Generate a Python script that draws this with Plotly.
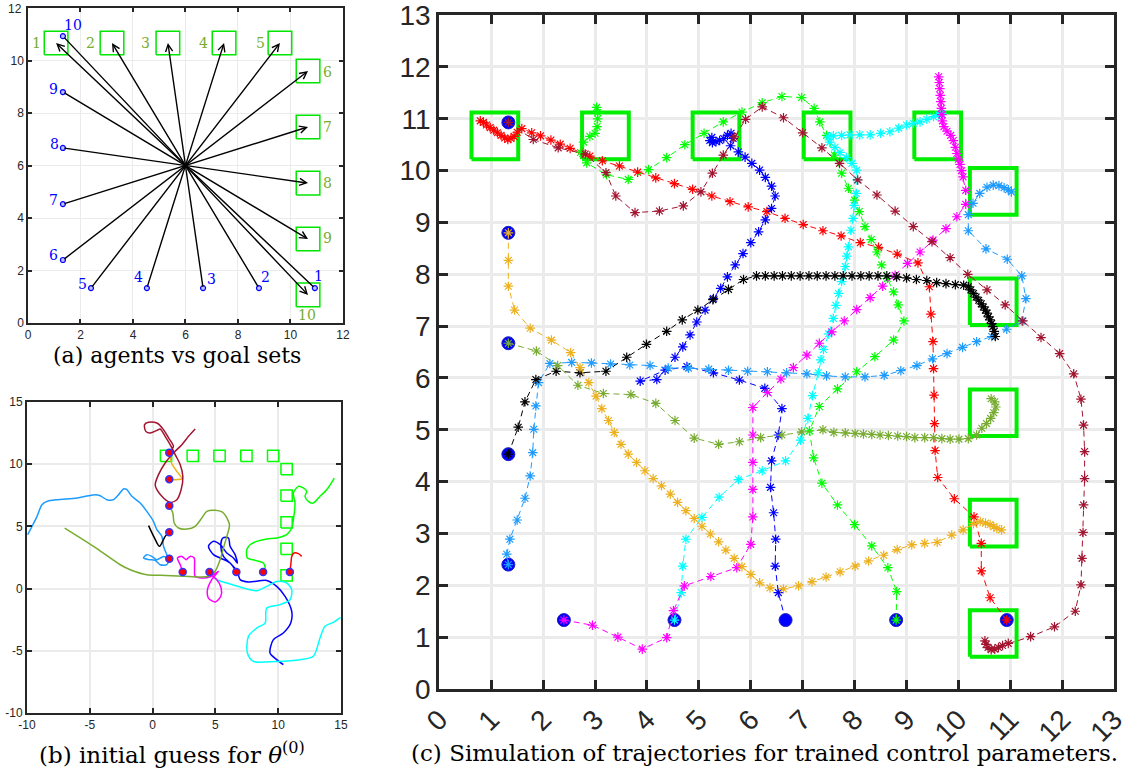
import plotly.graph_objects as go

# ---------------- data ----------------
AGENT_X = [10.93, 8.8, 6.67, 4.53, 2.4, 1.33, 1.33, 1.33, 1.33, 1.33]
AGENT_Y = [1.33, 1.33, 1.33, 1.33, 1.33, 2.4, 4.53, 6.67, 8.8, 10.93]
GOAL_X = [1.07, 3.2, 5.33, 7.47, 9.6, 10.67, 10.67, 10.67, 10.67, 10.67]
GOAL_Y = [10.67, 10.67, 10.67, 10.67, 10.67, 9.6, 7.47, 5.33, 3.2, 1.07]
GOAL_HALF = 0.45
LABELS = ["1", "2", "3", "4", "5", "6", "7", "8", "9", "10"]
AGENT_LABEL_X = [11.07, 9.04, 7.01, 4.21, 2.06, 0.98, 0.98, 1.01, 0.98, 1.70]
AGENT_LABEL_Y = [1.78, 1.75, 1.69, 1.75, 1.50, 2.58, 4.70, 6.81, 8.93, 11.34]
GOAL_LABEL_X = [0.34, 2.37, 4.49, 6.69, 8.85, 11.43, 11.43, 11.43, 11.43, 10.63]
GOAL_LABEL_Y = [10.67, 10.67, 10.67, 10.67, 10.67, 9.56, 7.47, 5.33, 3.24, 0.29]
A_TICKS = [0, 2, 4, 6, 8, 10, 12]
B_TICKS = [-10, -5, 0, 5, 10, 15]
C_TICKS = list(range(0, 14))

COLORS = ["#ff0000", "#00ff00", "#0000ff", "#00ffff", "#ff00ff",
          "#1e9bff", "#000000", "#77ac30", "#edb120", "#a2142f"]

# panel (c): simulated trajectories for trained parameters
C1 = [(10.93,1.33),(10.61,1.76),(10.44,2.28),(10.44,2.81),(10.30,3.32),(9.92,3.67),(9.60,4.08),(9.55,4.60),
      (9.54,5.12),(9.53,5.67),(9.52,6.18),(9.51,6.70),(9.47,7.23),(9.44,7.76),(9.22,8.22),(8.82,8.39),
      (8.46,8.52),(8.11,8.61),(7.74,8.74),(7.39,8.84),(7.01,8.96),(6.66,9.08),(6.31,9.21),(5.95,9.30),
      (5.60,9.40),(5.25,9.51),(4.88,9.64),(4.53,9.75),(4.17,9.86),(3.82,9.97),(3.47,10.09),(3.14,10.19),
      (2.90,10.28),(2.77,10.33),(2.52,10.43),(2.33,10.51),(2.15,10.59),(1.95,10.67),(1.78,10.73),
      (1.59,10.81),(1.50,10.74),(1.44,10.66),(1.38,10.62),(1.32,10.60),(1.26,10.63),(1.19,10.68),
      (1.12,10.73),(1.05,10.78),(0.98,10.83),(0.91,10.88),(0.85,10.93),(0.79,10.96)]
C2 = [(8.80,1.33),(8.81,1.88),(8.64,2.34),(8.33,2.76),(8.00,3.17),(7.67,3.55),(7.37,3.97),(7.21,4.46),
      (7.13,4.98),(7.32,5.45),(7.67,5.79),(8.04,6.12),(8.39,6.41),(8.75,6.73),(8.95,7.10),(8.84,7.41),
      (8.75,7.66),(8.63,7.92),(8.52,8.18),(8.43,8.43),(8.32,8.67),(8.20,8.92),(8.09,9.21),(8.00,9.43),
      (7.88,9.66),(7.75,9.95),(7.61,10.30),(7.46,10.68),(7.33,10.94),(7.22,11.20),(6.98,11.41),
      (6.60,11.43),(6.22,11.31),(5.83,11.13),(5.47,10.94),(5.10,10.72),(4.73,10.50),(4.38,10.25),
      (4.03,10.02),(3.64,9.83),(3.22,9.92),(2.84,10.15),(2.72,10.35),(2.78,10.55),(2.90,10.66),
      (3.00,10.72),(3.04,10.85),(3.05,11.00),(3.05,11.12),(3.03,11.22)]
C3 = [(6.67,1.33),(6.53,1.86),(6.47,2.37),(6.48,2.89),(6.44,3.40),(6.38,3.89),(6.40,4.40),(6.53,4.90),
      (6.60,5.41),(6.27,5.80),(5.78,5.96),(5.28,6.10),(4.77,6.22),(4.35,6.15),(3.87,5.94),(4.19,5.97),
      (4.54,6.40),(4.69,6.60),(4.83,6.83),(4.96,7.08),(5.12,7.31),(5.28,7.53),(5.42,7.73),(5.55,7.95),
      (5.70,8.18),(5.85,8.40),(6.00,8.61),(6.15,8.82),(6.28,9.05),(6.40,9.27),(6.47,9.51),(6.40,9.70),
      (6.28,9.87),(6.17,10.01),(6.02,10.14),(5.89,10.26),(5.76,10.36),(5.61,10.48),(5.66,10.62),
      (5.62,10.72),(5.55,10.68),(5.48,10.62),(5.40,10.58),(5.33,10.56),(5.26,10.54),(5.21,10.58),
      (5.25,10.64)]
C4 = [(4.53,1.33),(4.66,1.86),(4.69,2.37),(4.75,2.89),(5.06,3.31),(5.39,3.70),(5.76,4.04),(6.22,4.21),
      (6.67,4.40),(6.96,4.80),(7.10,5.22),(7.19,5.66),(7.30,6.10),(7.35,6.35),(7.40,6.55),(7.50,6.85),
      (7.59,7.15),(7.64,7.40),(7.69,7.63),(7.75,7.86),(7.82,8.15),(7.85,8.35),(7.88,8.53),(7.93,8.85),
      (7.97,9.08),(7.99,9.33),(8.03,9.56),(8.05,9.82),(8.04,10.01),(7.95,10.14),(7.84,10.25),
      (7.72,10.35),(7.62,10.45),(7.52,10.55),(7.49,10.65),(7.59,10.67),(7.75,10.68),(7.91,10.69),
      (8.10,10.69),(8.30,10.69),(8.50,10.72),(8.68,10.75),(8.85,10.82),(9.00,10.88),(9.13,10.91),
      (9.26,10.94),(9.39,10.99),(9.52,11.04),(9.62,11.08),(9.68,11.10)]
C5 = [(2.40,1.33),(2.95,1.23),(3.44,1.00),(3.91,0.77),(4.38,0.99),(4.51,1.51),(4.72,1.99),(5.23,2.17),
      (5.73,2.34),(6.00,2.79),(6.04,3.32),(6.04,3.85),(6.04,4.37),(6.04,4.90),(6.04,5.43),(6.32,5.72),
      (6.58,5.98),(6.82,6.20),(7.08,6.44),(7.32,6.67),(7.56,6.89),(7.80,7.10),(8.04,7.32),(8.30,7.55),
      (8.54,7.77),(8.78,7.98),(9.02,8.21),(9.26,8.43),(9.51,8.66),(9.76,8.88),(9.97,9.11),(10.14,9.35),
      (10.14,9.62),(10.09,9.88),(10.06,10.00),(10.03,10.12),(10.00,10.22),(9.97,10.33),(9.94,10.45),
      (9.90,10.58),(9.85,10.68),(9.78,10.76),(9.72,10.85),(9.69,10.96),(9.68,11.08),(9.67,11.20),
      (9.66,11.33),(9.65,11.45),(9.64,11.58),(9.63,11.70),(9.62,11.81)]
C6 = [(1.33,2.40),(1.30,2.60),(1.36,2.89),(1.50,3.26),(1.65,3.68),(1.75,4.11),(1.80,4.56),(1.82,5.01),
      (1.86,5.46),(1.91,5.91),(2.13,6.28),(2.55,6.30),(2.93,6.29),(3.30,6.27),(3.67,6.25),(4.06,6.24),
      (4.41,6.19),(4.80,6.19),(5.19,6.17),(5.57,6.15),(5.94,6.13),(6.32,6.12),(6.69,6.10),(7.08,6.08),
      (7.46,6.04),(7.82,6.02),(8.20,6.02),(8.57,6.05),(8.89,6.14),(9.20,6.24),(9.50,6.37),(9.78,6.47),
      (10.08,6.59),(10.35,6.70),(10.64,6.80),(10.93,6.94),(11.22,7.10),(11.30,7.53),(11.22,7.97),
      (10.94,8.29),(10.53,8.49),(10.19,8.84),(10.19,9.15),(10.28,9.37),(10.41,9.56),(10.55,9.68),
      (10.67,9.72),(10.78,9.71),(10.88,9.67),(10.96,9.63),(11.02,9.59)]
C7 = [(1.33,4.53),(1.52,5.05),(1.65,5.54),(1.86,5.97),(2.25,6.13),(2.71,6.10),(3.21,6.13),(3.61,6.40),
      (3.99,6.65),(4.38,6.90),(4.68,7.12),(4.98,7.31),(5.27,7.51),(5.57,7.71),(5.86,7.90),(6.11,7.97),
      (6.28,7.97),(6.45,7.97),(6.61,7.97),(6.78,7.97),(6.95,7.97),(7.12,7.97),(7.28,7.97),(7.45,7.97),
      (7.62,7.97),(7.78,7.97),(7.95,7.97),(8.12,7.97),(8.28,7.97),(8.45,7.97),(8.62,7.97),(8.81,7.95),
      (9.00,7.93),(9.19,7.90),(9.39,7.88),(9.58,7.84),(9.76,7.82),(9.94,7.80),(10.10,7.79),(10.19,7.76),
      (10.24,7.70),(10.29,7.63),(10.34,7.56),(10.39,7.50),(10.44,7.43),(10.48,7.37),(10.52,7.31),
      (10.55,7.25),(10.58,7.18),(10.61,7.12),(10.64,7.05),(10.66,6.99),(10.69,6.90),(10.71,6.80)]
C8 = [(1.33,6.67),(1.87,6.52),(2.28,6.24),(2.67,5.86),(3.16,5.70),(3.69,5.68),(4.17,5.51),(4.54,5.18),
      (4.91,4.84),(5.38,4.72),(5.78,4.77),(6.19,4.85),(6.60,4.90),(6.98,4.96),(7.39,5.00),(7.60,4.95),
      (7.82,4.94),(8.01,4.93),(8.17,4.92),(8.33,4.91),(8.49,4.90),(8.65,4.89),(8.83,4.88),(9.00,4.87),
      (9.16,4.85),(9.35,4.85),(9.52,4.85),(9.68,4.83),(9.84,4.82),(10.01,4.82),(10.19,4.83),
      (10.35,4.90),(10.45,5.03),(10.54,5.12),(10.62,5.22),(10.68,5.33),(10.72,5.44),(10.70,5.54),
      (10.63,5.60)]
C9 = [(1.33,8.80),(1.33,8.27),(1.33,7.77),(1.45,7.31),(1.75,6.96),(2.16,6.73),(2.53,6.49),(2.71,6.20),
      (2.88,5.91),(3.02,5.65),(3.13,5.41),(3.26,5.18),(3.37,4.95),(3.50,4.72),(3.64,4.53),(3.80,4.37),
      (3.96,4.21),(4.12,4.06),(4.28,3.92),(4.45,3.76),(4.59,3.60),(4.75,3.44),(4.91,3.29),(5.06,3.14),
      (5.22,2.99),(5.38,2.84),(5.52,2.68),(5.68,2.52),(5.83,2.36),(6.00,2.21),(6.17,2.05),(6.37,1.95),
      (6.63,1.93),(6.92,1.99),(7.18,2.07),(7.45,2.16),(7.72,2.26),(8.01,2.37),(8.27,2.47),(8.56,2.58),
      (8.82,2.69),(9.10,2.78),(9.35,2.81),(9.59,2.83),(9.87,2.97),(10.09,3.07),(10.29,3.19),
      (10.42,3.23),(10.52,3.20),(10.61,3.17),(10.68,3.13),(10.74,3.10),(10.83,3.07)]
C10 = [(1.33,10.93),(1.81,10.60),(2.29,10.44),(2.81,10.32),(3.21,9.96),(3.40,9.51),(3.77,9.19),
       (4.24,9.22),(4.70,9.32),(5.04,9.59),(5.26,9.95),(5.47,10.30),(5.68,10.65),(5.90,10.99),
       (6.22,11.23),(6.63,11.02),(7.00,10.73),(7.37,10.44),(7.71,10.14),(8.06,9.82),(8.43,9.53),
       (8.78,9.22),(9.13,8.92),(9.49,8.63),(9.84,8.32),(10.18,8.00),(10.55,7.70),(10.90,7.41),
       (11.24,7.10),(11.59,6.78),(11.95,6.47),(12.22,6.08),(12.36,5.59),(12.41,5.09),(12.43,4.58),
       (12.43,4.06),(12.41,3.55),(12.40,3.02),(12.38,2.52),(12.36,2.01),(12.25,1.50),(11.85,1.20),
       (11.39,1.01),(10.96,0.88),(10.85,0.84),(10.77,0.80),(10.70,0.77),(10.63,0.76),(10.57,0.80),
       (10.53,0.86),(10.51,0.93)]

# panel (b): initial-guess trajectories
B1 = [(10.93,1.33),(11.02,2.06),(11.08,2.59),(11.26,2.86),(11.61,2.81),(11.87,2.59)]
B2 = [(8.80,1.33),(8.96,1.66),(8.82,2.06),(8.16,2.27),(7.55,2.46),(7.50,3.13),(7.76,3.53),(8.29,3.80),
      (9.09,3.99),(9.88,4.07),(10.68,4.34),(11.08,4.87),(11.21,5.54),(11.34,6.88),(11.21,7.68),
      (11.61,8.22),(12.00,8.09),(12.27,7.82),(12.14,7.42),(12.40,7.01),(12.80,6.88),(13.33,7.42),
      (13.86,7.95),(14.47,8.89)]
B3 = [(6.67,1.33),(6.17,2.06),(5.38,2.46),(4.85,2.73),(4.45,3.40),(4.85,3.80),(5.38,3.53),(5.91,2.86),
      (6.44,2.46),(6.75,2.06),(6.57,2.73),(6.17,3.40),(6.04,4.07),(5.59,4.07),(5.43,3.40),(5.64,2.59),
      (6.17,2.06),(6.75,1.39),(6.97,0.72),(7.63,0.53),(9.09,0.66),(9.88,0.18),(10.55,-0.62),
      (11.08,-1.83),(11.00,-2.77),(10.41,-3.57),(9.62,-4.10),(9.35,-5.18),(9.88,-5.71),(10.41,-6.11)]
B4 = [(4.53,1.33),(5.11,0.72),(5.91,0.45),(6.97,0.13),(8.29,-0.17),(9.09,0.18),(9.88,0.58),
      (10.68,0.45),(11.08,-0.09),(10.94,-0.89),(10.15,-1.29),(9.09,-1.56),(8.96,-2.77),(8.29,-3.17),
      (7.63,-3.84),(7.55,-5.18),(8.03,-5.85),(9.88,-5.85),(11.74,-5.71),(12.80,-5.44),(13.33,-3.97),
      (13.73,-3.03),(14.39,-2.71),(14.97,-2.31)]
B5 = [(2.40,1.33),(2.20,1.92),(1.98,2.46),(2.33,2.59),(2.67,2.33),(2.99,2.59),(3.31,2.46),(3.34,1.66),
      (3.39,0.99),(3.92,0.85),(4.53,0.93),(5.24,1.39),(4.71,0.72),(4.37,-0.09),(4.45,-0.76),
      (4.98,-1.08),(5.43,-0.62),(5.46,0.05),(5.11,0.72),(4.53,1.12)]
B6 = [(1.33,2.40),(0.87,2.59),(0.34,2.33),(-0.06,2.59),(-0.46,2.73),(-0.72,2.46),(-0.32,2.33),
      (0.21,2.27),(0.60,1.92),(1.13,1.92),(1.27,2.33),(1.13,2.73),(0.87,3.40),(0.74,4.20),(0.34,4.74),
      (0.07,5.41),(-0.46,6.21),(-0.99,6.88),(-1.65,7.42),(-2.05,7.95),(-2.31,8.01),(-2.71,7.55),
      (-3.11,7.15),(-3.64,7.15),(-4.17,7.47),(-4.57,7.55),(-5.10,7.47),(-6.02,7.28),(-7.61,7.15),
      (-8.41,7.01),(-8.81,6.75),(-9.20,5.81),(-9.60,5.01),(-9.95,4.34)]
B7 = [(1.33,4.53),(1.00,4.20),(0.55,3.40),(0.15,4.07),(-0.32,5.06)]
B8 = [(1.33,6.67),(1.61,6.08),(1.72,5.27),(2.06,4.87),(2.73,4.79),(3.39,5.01),(3.92,5.68),(4.32,6.21),
      (4.98,6.29),(5.64,6.08),(6.12,5.14),(5.91,4.20),(5.64,3.26),(5.38,2.33),(4.98,1.39),(4.45,0.99),
      (3.79,0.93),(2.46,0.99),(0.60,1.07),(-0.46,1.12),(-1.78,1.52),(-2.58,1.92),(-4.70,3.40),
      (-7.00,4.87)]
B9 = [(1.33,8.80),(1.93,8.76),(2.33,8.84),(1.93,9.43),(1.53,10.04),(1.40,10.63)]
B10 = [(1.33,10.93),(1.66,11.44),(1.27,12.11),(0.87,12.78),(0.34,13.31),(-0.32,13.37),(-0.64,13.18),
       (-0.54,12.64),(-0.19,12.51),(0.34,12.72),(0.60,12.83),(1.00,12.24),(1.40,11.57),(1.80,10.77),
       (2.20,9.96),(2.41,9.02),(2.27,7.95),(1.93,7.15),(1.40,6.93),(0.87,7.28),(0.34,7.95),(0.21,8.35),
       (0.47,9.16),(1.00,10.10),(1.66,10.90),(2.33,11.57),(2.86,12.24),(3.39,12.83)]

C_TRAJ = [C1, C2, C3, C4, C5, C6, C7, C8, C9, C10]
B_TRAJ = [B1, B2, B3, B4, B5, B6, B7, B8, B9, B10]

CAPTIONS = ["(a) agents vs goal sets",
            "(b) initial guess for <i>θ</i><sup>(0)</sup>",
            "(c) Simulation of trajectories for trained control parameters."]

# ---------------- figure ----------------
W, H = 1141, 772


def px_x(p):
    return p / W


def px_y(p):
    return 1 - p / H


fig = go.Figure()


def box_path(half):
    xs, ys = [], []
    for gx, gy in zip(GOAL_X, GOAL_Y):
        xs += [gx - half, gx + half, gx + half, gx - half, gx - half, None]
        ys += [gy - half, gy - half, gy + half, gy + half, gy - half, None]
    return xs, ys


bx, by = box_path(GOAL_HALF)

# ---- panel (a)
fig.add_trace(go.Scatter(x=bx, y=by, mode="lines", line=dict(color="#00e600", width=1.5),
                         xaxis="x", yaxis="y", hoverinfo="skip"))
fig.add_trace(go.Scatter(x=AGENT_X, y=AGENT_Y, mode="markers",
                         marker=dict(symbol="circle", size=5, color="rgba(0,0,255,0.25)",
                                     line=dict(color="#0000ff", width=1.2)),
                         xaxis="x", yaxis="y", hoverinfo="skip"))
annotations = []
for ax_, ay_, gx, gy in zip(AGENT_X, AGENT_Y, GOAL_X, GOAL_Y):
    annotations.append(dict(x=gx, y=gy, ax=ax_, ay=ay_, xref="x", yref="y", axref="x", ayref="y",
                            text="", showarrow=True, arrowhead=5, arrowsize=1.0, arrowwidth=1.4,
                            arrowcolor="#000000", standoff=0, startstandoff=0))
for lx, ly, t in zip(AGENT_LABEL_X, AGENT_LABEL_Y, LABELS):
    annotations.append(dict(x=lx, y=ly, xref="x", yref="y", text=t, showarrow=False,
                            xanchor="center", yanchor="middle",
                            font=dict(family="DejaVu Serif", size=14, color="#0000ff")))
for lx, ly, t in zip(GOAL_LABEL_X, GOAL_LABEL_Y, LABELS):
    annotations.append(dict(x=lx, y=ly, xref="x", yref="y", text=t, showarrow=False,
                            xanchor="center", yanchor="middle",
                            font=dict(family="DejaVu Serif", size=14, color="#77ac30")))

# ---- panel (b)
fig.add_trace(go.Scatter(x=bx, y=by, mode="lines", line=dict(color="#00ff00", width=1.5),
                         xaxis="x2", yaxis="y2", hoverinfo="skip"))
for traj, col in zip(B_TRAJ, COLORS):
    fig.add_trace(go.Scatter(x=[p[0] for p in traj], y=[p[1] for p in traj], mode="lines",
                             line=dict(color=col, width=1.5, shape="spline", smoothing=0.8),
                             xaxis="x2", yaxis="y2", hoverinfo="skip"))
fig.add_trace(go.Scatter(x=AGENT_X, y=AGENT_Y, mode="markers",
                         marker=dict(symbol="circle", size=7, color="#ff0000",
                                     line=dict(color="#3333ff", width=1.5)),
                         xaxis="x2", yaxis="y2", hoverinfo="skip"))

# ---- panel (c)
fig.add_trace(go.Scatter(x=bx, y=by, mode="lines", line=dict(color="#00ee00", width=4),
                         xaxis="x3", yaxis="y3", hoverinfo="skip"))
fig.add_trace(go.Scatter(x=AGENT_X, y=AGENT_Y, mode="markers",
                         marker=dict(symbol="circle", size=13, color="#0000ff",
                                     line=dict(color="#2020c0", width=1)),
                         xaxis="x3", yaxis="y3", hoverinfo="skip"))
for traj, col in zip(C_TRAJ, COLORS):
    fig.add_trace(go.Scatter(x=[p[0] for p in traj], y=[p[1] for p in traj], mode="lines+markers",
                             line=dict(color=col, width=1, dash="6px,4px"),
                             marker=dict(symbol="asterisk-open", size=8,
                                         line=dict(color=col, width=1.2)),
                             xaxis="x3", yaxis="y3", hoverinfo="skip"))

# ---- captions
for cxp, cyp, size, txt in zip([177, 172, 764], [355, 753, 753], [22, 23, 23], CAPTIONS):
    annotations.append(dict(x=px_x(cxp), y=px_y(cyp), xref="paper", yref="paper", text=txt,
                            showarrow=False, xanchor="center", yanchor="middle",
                            font=dict(family="DejaVu Serif", size=size, color="#000000")))

tick_font_small = dict(family="Liberation Sans", size=12, color="#262626")
tick_font_big = dict(family="Liberation Sans", size=28, color="#262626")

# top y tick label of panel (a), placed as paper-referenced text at the top edge of that panel
annotations.append(dict(x=px_x(24), y=px_y(9), xref="paper", yref="paper", text=str(A_TICKS[-1]),
                        showarrow=False, xanchor="right", yanchor="middle",
                        font=dict(family="Liberation Sans", size=12, color="#262626")))


def axis(domain, rng, tickvals, font, lw, tl, gw, anchor, angle=None):
    d = dict(domain=domain, range=rng, tickvals=tickvals, ticktext=[str(v) for v in tickvals],
             tickfont=font, showline=True, linecolor="#262626", linewidth=lw, mirror="ticks",
             ticks="inside", ticklen=tl, tickwidth=lw, tickcolor="#262626",
             showgrid=True, gridcolor="#ebebeb", gridwidth=gw, zeroline=False, anchor=anchor,
             fixedrange=True, automargin=False, ticklabeloverflow="allow")
    if angle is not None:
        d["tickangle"] = angle
    return d


EPS = 0.002
fig.update_layout(
    width=W, height=H, margin=dict(l=0, r=0, t=0, b=0, pad=0, autoexpand=False),
    paper_bgcolor="white", plot_bgcolor="white", showlegend=False,
    xaxis=axis([px_x(28), px_x(343)], [0, 12 + EPS], A_TICKS, tick_font_small, 1.5, 4, 1, "y"),
    yaxis=axis([px_y(323), px_y(8)], [0, 12 + EPS], A_TICKS[:-1], tick_font_small, 1.5, 4, 1, "x"),
    xaxis2=axis([px_x(27), px_x(341)], [-10, 15 + EPS], B_TICKS, tick_font_small, 2, 5, 1.5, "y2"),
    yaxis2=axis([px_y(713), px_y(402)], [-10, 15 + EPS], B_TICKS, tick_font_small, 2, 5, 1.5, "x2"),
    xaxis3=axis([px_x(439.3), px_x(1114.3)], [0, 13 + EPS], C_TICKS, tick_font_big, 3, 9, 3, "y3", angle=-45),
    yaxis3=axis([px_y(689), px_y(15)], [0, 13 + EPS], C_TICKS, tick_font_big, 3, 9, 3, "x3"),
    annotations=annotations,
)

# remove the browser's default 8px body margin so the 1141x772 figure fills the window exactly
fig.write_html("out.html", config={"displayModeBar": False},
               post_script="document.body.style.margin='0px';")
